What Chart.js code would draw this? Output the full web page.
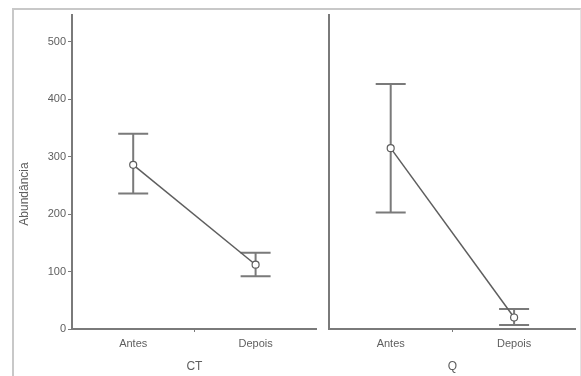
<!DOCTYPE html>
<html>
<head>
<meta charset="utf-8">
<script src="https://cdn.jsdelivr.net/npm/chart.js@4/dist/chart.umd.min.js"></script>
<style>
  html, body { margin: 0; padding: 0; background: #fff; }
  #wrap { position: relative; width: 581px; height: 376px; overflow: hidden; font-family: "Liberation Sans", Arial, sans-serif; }
  #frame { position: absolute; left: 12px; top: 8px; width: 566px; height: 400px;
           border-left: 2px solid #c8c8c8; border-top: 2px solid #c8c8c8; border-right: 1px solid #e2e2e2; }
  canvas { position: absolute; top: 0; }
  #cLeft { left: 0; }
  #cRight { left: 322px; }
</style>
</head>
<body>
<div id="wrap">
  <div id="frame"></div>
  <canvas id="cLeft" width="322" height="376"></canvas>
  <canvas id="cRight" width="259" height="376"></canvas>
</div>
<script>
// Periods compared in each panel
const periods = ['Antes', 'Depois'];

// Mean abundance with upper / lower limits, CT panel
const ctMean  = [286, 112];
const ctUpper = [340, 133];
const ctLower = [236, 92];

// Mean abundance with upper / lower limits, Q panel
const qMean  = [315, 20];
const qUpper = [427, 35];
const qLower = [203, 7];

// Y axis range and tick step
const yMin = 0;
const yMax = 547;
const yStep = 100;

const AXIS = '#7a7a7a';
const INK = '#5e5e5e';
const FONT = 'Liberation Sans';

// Whisker bars drawn under the mean markers
const errorBars = {
  id: 'errorBars',
  beforeDatasetsDraw(chart, args, opts) {
    const { ctx, scales: { x, y } } = chart;
    ctx.save();
    ctx.strokeStyle = AXIS;
    ctx.lineWidth = 2;
    opts.upper.forEach((hi, i) => {
      const px = x.getPixelForValue(i);
      const yHi = y.getPixelForValue(hi);
      const yLo = y.getPixelForValue(opts.lower[i]);
      const half = 15;
      ctx.beginPath();
      ctx.moveTo(px, yHi); ctx.lineTo(px, yLo);
      ctx.moveTo(px - half, yHi); ctx.lineTo(px + half, yHi);
      ctx.moveTo(px - half, yLo); ctx.lineTo(px + half, yLo);
      ctx.stroke();
    });
    ctx.restore();
  }
};

// Rotated y-axis caption on the left panel
const yCaption = {
  id: 'yCaption',
  afterDraw(chart, args, opts) {
    if (!opts.text) return;
    const { ctx, chartArea } = chart;
    ctx.save();
    ctx.translate(25, chartArea.top + (chartArea.bottom - chartArea.top) * 0.57);
    ctx.rotate(-Math.PI / 2);
    ctx.font = '12px "' + FONT + '"';
    ctx.fillStyle = INK;
    ctx.textAlign = 'center';
    ctx.textBaseline = 'middle';
    ctx.fillText(opts.text, 0, 0);
    ctx.restore();
  }
};

function makePanel(canvasId, title, mean, upper, lower, showY, yWidth, padRight, caption) {
  return new Chart(document.getElementById(canvasId), {
    type: 'line',
    data: {
      labels: periods,
      datasets: [{
        data: mean,
        borderColor: INK,
        borderWidth: 1.5,
        pointRadius: 3.5,
        pointBorderWidth: 1.2,
        pointBackgroundColor: '#fff',
        pointBorderColor: INK,
        tension: 0
      }]
    },
    options: {
      responsive: false,
      animation: false,
      devicePixelRatio: 1,
      layout: { padding: { top: 15, right: padRight, left: 0, bottom: 0 } },
      plugins: {
        legend: { display: false },
        tooltip: { enabled: false },
        errorBars: { upper: upper, lower: lower },
        yCaption: { text: caption }
      },
      scales: {
        x: {
          type: 'category',
          offset: true,
          grid: {
            offset: true,
            drawOnChartArea: false,
            tickLength: 3,
            // only the divider between the two periods gets a tick mark
            color: (c) => (c.index === 1 ? AXIS : 'rgba(0,0,0,0)')
          },
          border: { color: AXIS, width: 2 },
          ticks: { font: { family: FONT, size: 11 }, color: INK, padding: 5 },
          title: { display: true, text: title, font: { family: FONT, size: 12 }, color: INK, padding: { top: 0, bottom: 2 } },
          afterFit(s) { s.height = 47; }
        },
        y: {
          min: yMin,
          max: yMax,
          ticks: { display: showY, stepSize: yStep, includeBounds: false, font: { family: FONT, size: 11 }, color: INK, padding: 2 },
          grid: { drawOnChartArea: false, drawTicks: showY, tickLength: 4, color: AXIS },
          border: { color: AXIS, width: 2 },
          afterFit(s) { s.width = yWidth; }
        }
      }
    },
    plugins: [errorBars, yCaption]
  });
}

makePanel('cLeft', 'CT', ctMean, ctUpper, ctLower, true, 72, 2, 'Abundância');
makePanel('cRight', 'Q', qMean, qUpper, qLower, false, 7, 4, '');
</script>
</body>
</html>
